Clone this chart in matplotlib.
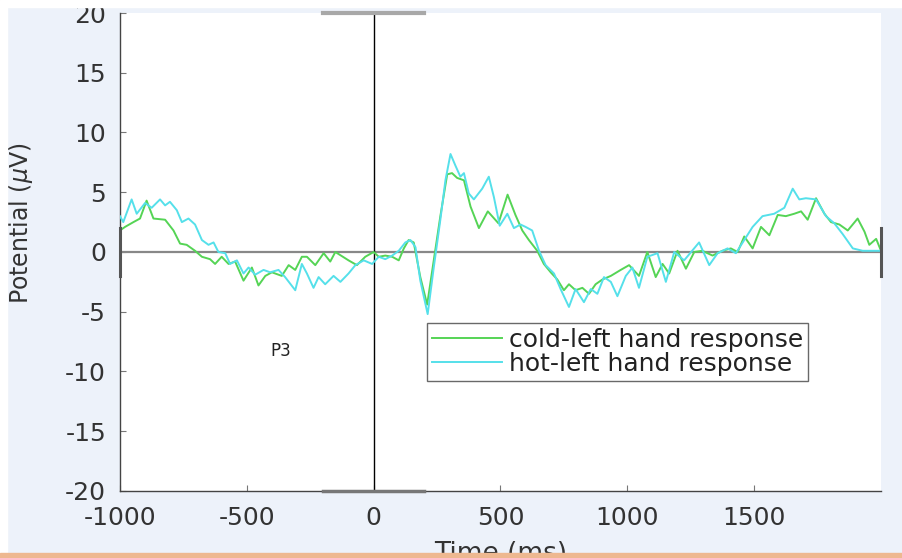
import matplotlib
matplotlib.use("Agg")
import matplotlib.pyplot as plt
from matplotlib.patches import Rectangle

plt.rcParams['font.family'] = ['DejaVu Sans']
plt.rcParams['axes.unicode_minus'] = False

# ---- data (time in ms, potential in microvolts) ----
cold_t = [-1000, -980, -947, -921, -895, -868, -822, -789, -763, -737, -704, -677, -645, -625,
          -599, -572, -546, -513, -480, -454, -427, -401, -362, -335, -309, -283, -263, -230,
          -197, -171, -151, -99, -66, -33, 0, 20, 46, 73, 99, 119, 138, 158, 184, 211, 237,
          263, 290, 309, 329, 356, 382, 415, 450, 492, 528, 559, 586, 612, 645, 671, 698, 724,
          750, 770, 796, 823, 849, 875, 902, 935, 974, 1007, 1046, 1079, 1112, 1139, 1165,
          1198, 1231, 1264, 1296, 1336, 1375, 1408, 1435, 1461, 1494, 1527, 1560, 1593, 1625,
          1658, 1685, 1711, 1744, 1777, 1803, 1836, 1869, 1908, 1935, 1954, 1981, 2000]
cold_v = [1.8, 2.1, 2.5, 2.8, 4.3, 2.8, 2.7, 1.8, 0.7, 0.6, 0.1, -0.4, -0.6, -1.0,
          -0.4, -1.0, -0.8, -2.4, -1.3, -2.8, -2.0, -1.7, -2.0, -1.1, -1.5, -0.4, -0.4, -1.1,
          -0.1, -0.8, 0.0, -0.7, -1.1, -0.4, 0.0, -0.4, -0.3, -0.4, -0.7, 0.3, 1.0, 0.8, -2.1, -4.4, -0.7,
          3.0, 6.5, 6.6, 6.2, 6.0, 3.8, 2.0, 3.4, 2.4, 4.8, 3.1, 1.8, 1.0, 0.1, -1.0, -1.7, -2.3,
          -3.2, -2.7, -3.2, -3.0, -3.5, -2.7, -2.3, -2.0, -1.5, -1.1, -2.0, 0.0, -2.1, -1.0, -1.8,
          0.1, -1.4, 0.0, 0.1, -0.3, 0.1, 0.3, 0.0, 1.3, 0.3, 2.1, 1.4, 3.1, 3.0,
          3.2, 3.4, 2.7, 4.5, 3.2, 2.5, 2.3, 1.8, 2.8, 1.7, 0.6, 1.1, 0.1]

hot_t = [-1000, -987, -954, -934, -901, -875, -842, -822, -803, -776, -756, -730, -704, -677,
         -651, -631, -612, -585, -566, -539, -513, -493, -467, -434, -408, -375, -349, -309,
         -283, -263, -237, -217, -191, -158, -131, -99, -72, -39, -6, 20, 46, 73, 99, 125,
         145, 165, 184, 213, 237, 263, 283, 303, 323, 342, 356, 375, 395, 428, 454, 474, 497,
         527, 553, 579, 599, 625, 652, 678, 711, 737, 770, 796, 829, 856, 882, 908, 935, 961,
         994, 1020, 1046, 1079, 1119, 1152, 1185, 1224, 1283, 1323, 1356, 1395, 1428, 1461,
         1494, 1533, 1579, 1619, 1652, 1678, 1704, 1744, 1783, 1816, 1849, 1889, 1928, 1981, 2000]
hot_v = [3.0, 2.5, 4.4, 3.2, 4.1, 3.7, 4.4, 3.9, 4.2, 3.5, 2.5, 2.8, 2.3, 1.0,
         0.6, 0.8, 0.0, -0.1, -1.0, -0.7, -1.8, -1.3, -1.9, -1.5, -1.7, -1.5, -2.1, -3.2,
         -1.0, -1.8, -3.0, -2.1, -2.7, -2.0, -2.5, -1.8, -1.1, -0.7, -1.0, -0.4, -0.6, -0.3, 0.1, 0.8,
         1.0, 0.4, -2.4, -5.2, -1.3, 2.7, 6.0, 8.2, 7.2, 6.3, 6.6, 4.9, 4.4, 5.3, 6.3, 4.6, 2.2,
         3.2, 2.0, 2.3, 2.1, 1.8, 0.1, -1.1, -1.8, -3.1, -4.6, -3.1, -4.2, -3.1, -3.5, -2.1, -2.5, -3.7,
         -2.0, -1.3, -3.0, -0.4, -0.1, -2.5, 0.0, -0.7, 0.8, -1.1, -0.1, 0.3, -0.1, 1.0,
         2.1, 3.0, 3.2, 3.7, 5.3, 4.4, 4.5, 4.4, 3.0, 2.4, 1.5, 0.3, 0.1, 0.1, 0.1]

labels = ["cold-left hand response", "hot-left hand response"]
xticks = [-1000, -500, 0, 500, 1000, 1500]
yticks = [-20, -15, -10, -5, 0, 5, 10, 15, 20]

# ---- figure ----
fig = plt.figure(figsize=(9.02, 5.58), dpi=100, facecolor='#edf2fa')
ax = fig.add_axes([0.1330, 0.1201, 0.8437, 0.8566])
ax.set_facecolor('white')

ax.plot(cold_t, cold_v, color='#55d455', lw=1.4, label=labels[0], zorder=3)
ax.plot(hot_t, hot_v, color='#55e0ea', lw=1.4, label=labels[1], zorder=3)

# reference lines
ax.axhline(0, color='#888888', lw=1.6, zorder=2)
ax.axvline(0, color='black', lw=1.0, zorder=2)
ax.plot([-200, 200], [20, 20], color='#a8a8a8', lw=3, clip_on=False, zorder=4)
ax.plot([-200, 200], [-20, -20], color='#777777', lw=2.5, clip_on=False, zorder=4)
ax.plot([-1000, -1000], [-2, 2], color='#555555', lw=2.2, clip_on=False, zorder=4)
ax.plot([2000, 2000], [-2, 2], color='#555555', lw=2.2, clip_on=False, zorder=4)

ax.text(-368, -8.3, "P3", fontsize=12, ha='center', va='center', color='#222222')

ax.set_xlim(-1000, 2000)
ax.set_ylim(-20, 20)
ax.set_xticks(xticks)
ax.set_yticks(yticks)
ax.tick_params(direction='in', length=4, width=0.8, color='#777777',
               labelsize=18, labelcolor='#333333')
ax.tick_params(axis='x', pad=11)
ax.tick_params(axis='y', pad=10)
for s in ['top', 'right']:
    ax.spines[s].set_visible(False)
for s in ['left', 'bottom']:
    ax.spines[s].set_color('#444444')
    ax.spines[s].set_linewidth(1.0)

ax.set_ylabel(r'Potential ($\mu$V)', fontsize=17, color='#333333')
ax.yaxis.set_label_coords(-0.112, 0.56)
ax.set_xlabel('Time (ms)', fontsize=19, color='#333333', labelpad=8)

leg = ax.legend(loc='upper left', bbox_to_anchor=(0.403, 0.351), borderaxespad=0,
                fontsize=18, frameon=True, fancybox=False, handlelength=2.8,
                handletextpad=0.28, borderpad=0.2, labelspacing=0.0)
leg.get_frame().set_edgecolor('#444444')
leg.get_frame().set_linewidth(1.0)
for txt in leg.get_texts():
    txt.set_color('#222222')

# page decorations: white top/left strips, orange bottom strip
fig.add_artist(Rectangle((0, 1 - 7 / 558), 1, 7 / 558, transform=fig.transFigure,
                         color='white', zorder=10))
fig.add_artist(Rectangle((0, 0), 7 / 902, 1, transform=fig.transFigure,
                         color='white', zorder=10))
fig.add_artist(Rectangle((0, 0), 1, 5 / 558, transform=fig.transFigure,
                         color='#eeb890', zorder=10))

fig.savefig('out.png', dpi=100, facecolor=fig.get_facecolor())
